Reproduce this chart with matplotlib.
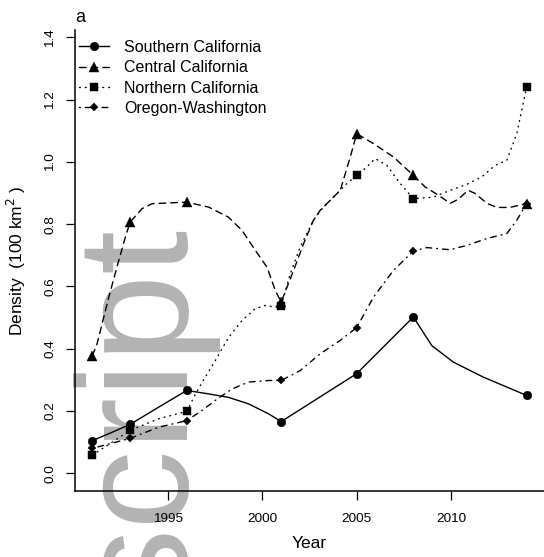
import matplotlib
matplotlib.use("Agg")
import matplotlib.pyplot as plt

plt.rcParams['font.family'] = ['Liberation Sans', 'DejaVu Sans']
plt.rcParams['lines.dash_capstyle'] = 'round'

# ---- data -------------------------------------------------------------
survey_years = [1991, 1993, 1996, 2001, 2005, 2008, 2014]

south_vals = [0.105, 0.157, 0.266, 0.166, 0.320, 0.502, 0.250]
central_vals = [0.378, 0.807, 0.871, 0.550, 1.091, 0.957, 0.866]
north_vals = [0.058, 0.138, 0.199, 0.537, 0.957, 0.882, 1.241]
oregon_vals = [0.080, 0.112, 0.169, 0.298, 0.468, 0.714, 0.866]

# smoothed trend paths
south_curve_x = [1991.0, 1991.87, 1993.0, 1994.5, 1996.0, 1997.16, 1998.2, 1999.27,
                 2000.33, 2001.0, 2005.0, 2008.0, 2008.98, 2010.12, 2011.7, 2014.0]
south_curve_y = [0.105, 0.127, 0.157, 0.212, 0.266, 0.255, 0.244, 0.223,
                 0.191, 0.166, 0.320, 0.502, 0.410, 0.357, 0.309, 0.250]

central_curve_x = [1991.0, 1991.25, 1991.87, 1992.4, 1992.75, 1993.0, 1993.63, 1994.16,
                   1996.0, 1997.16, 1998.2, 1998.93, 1999.63, 2000.25, 2000.69, 2001.0,
                   2001.66, 2002.19, 2002.71, 2003.07, 2003.6, 2004.13, 2004.66, 2005.0,
                   2005.89, 2006.95, 2008.0, 2008.62, 2009.33, 2009.95, 2010.37, 2010.9,
                   2011.27, 2011.9, 2012.43, 2013.1, 2014.0]
central_curve_y = [0.378, 0.416, 0.566, 0.684, 0.759, 0.807, 0.850, 0.866,
                   0.871, 0.855, 0.823, 0.780, 0.716, 0.662, 0.587, 0.550,
                   0.652, 0.738, 0.813, 0.845, 0.877, 0.909, 1.016, 1.091,
                   1.059, 1.016, 0.957, 0.920, 0.893, 0.867, 0.880, 0.909,
                   0.899, 0.867, 0.854, 0.854, 0.866]

north_curve_x = [1991.0, 1993.0, 1994.51, 1996.0, 1996.46, 1996.98, 1997.51, 1998.22,
                 1998.93, 1999.63, 2000.16, 2000.69, 2001.0, 2001.48, 2002.01, 2002.71,
                 2003.24, 2003.95, 2004.48, 2005.0, 2005.54, 2005.98, 2006.6, 2007.3,
                 2008.0, 2009.06, 2009.95, 2010.83, 2011.62, 2012.33, 2012.95, 2013.48,
                 2014.0]
north_curve_y = [0.058, 0.138, 0.175, 0.199, 0.255, 0.309, 0.362, 0.437,
                 0.491, 0.529, 0.539, 0.534, 0.537, 0.641, 0.727, 0.813,
                 0.855, 0.898, 0.931, 0.957, 0.984, 1.011, 0.989, 0.931,
                 0.882, 0.887, 0.909, 0.928, 0.952, 0.989, 1.005, 1.091,
                 1.241]

oregon_curve_x = [1991.0, 1993.0, 1994.51, 1996.0, 1996.81, 1997.51, 1998.4, 1999.27,
                  2000.33, 2001.0, 2002.01, 2003.07, 2004.13, 2005.0, 2005.89, 2006.95,
                  2008.0, 2008.71, 2009.95, 2010.83, 2011.89, 2012.95, 2013.48, 2014.0]
oregon_curve_y = [0.080, 0.112, 0.148, 0.169, 0.202, 0.234, 0.271, 0.293,
                  0.298, 0.298, 0.330, 0.384, 0.427, 0.468, 0.566, 0.652,
                  0.714, 0.725, 0.718, 0.732, 0.754, 0.770, 0.813, 0.866]

series_names = ["Southern California", "Central California",
                "Northern California", "Oregon-Washington"]
x_ticks = [1995, 2000, 2005, 2010]
y_ticks = [0.0, 0.2, 0.4, 0.6, 0.8, 1.0, 1.2, 1.4]
y_tick_labels = ["0.0", "0.2", "0.4", "0.6", "0.8", "1.0", "1.2", "1.4"]

# ---- figure ------------------------------------------------------------
W, H = 544, 557
fig = plt.figure(figsize=(W / 100, H / 100), dpi=100)

# faint watermark text behind the plot
fig.text(184 / W, 1 - 603 / H, "script", rotation=90, rotation_mode='anchor',
         ha='left', va='baseline', fontsize=114, color='#b3b3b3',
         family='Liberation Sans', zorder=-1)

ax = fig.add_axes([75 / W, 1 - 491 / H, 469 / W, 461 / H])
ax.set_facecolor('none')

lw = 1.0
styles = [
    dict(ls='-', marker='o', ms=6.2),
    dict(ls=(0, (4.8, 3.6)), marker='^', ms=7.0),
    dict(ls=(0, (0.6, 3.6)), marker='s', ms=5.4),
    dict(ls=(0, (0.6, 3.6, 4.2, 3.6)), marker='D', ms=4.0),
]
curves = [(south_curve_x, south_curve_y, south_vals),
          (central_curve_x, central_curve_y, central_vals),
          (north_curve_x, north_curve_y, north_vals),
          (oregon_curve_x, oregon_curve_y, oregon_vals)]

handles = []
for (cx, cy, vals), st, name in zip(curves, styles, series_names):
    ax.plot(cx, cy, color='black', lw=lw, ls=st['ls'], zorder=2)
    ax.plot(survey_years, vals, ls='none', marker=st['marker'], ms=st['ms'],
            color='black', mew=0.3, zorder=3)
    h, = ax.plot([], [], color='black', lw=lw, ls=st['ls'], marker=st['marker'],
                 ms=st['ms'], mew=0.3, label=name)
    handles.append(h)

ax.set_xlim(1990.08, 2014.92)
ax.set_ylim(-0.057, 1.424)
ax.set_xticks(x_ticks)
ax.set_xticklabels([str(t) for t in x_ticks])
ax.set_yticks(y_ticks)
ax.set_yticklabels(y_tick_labels)

for s in ['top', 'right']:
    ax.spines[s].set_visible(False)
for s in ['left', 'bottom']:
    ax.spines[s].set_linewidth(1.1)

ax.tick_params(axis='both', direction='out', length=6.5, width=0.9,
               labelsize=9.7, colors='black')
ax.tick_params(axis='x', pad=9.3)
ax.tick_params(axis='y', pad=7.0, labelrotation=90)
for lab in ax.get_yticklabels():
    lab.set_va('center')

ax.set_xlabel("Year", fontsize=12.5)
ax.xaxis.set_label_coords(0.5, -(536 - 491) / 461)
ax.set_ylabel("Density  (100 km$^2$ )", fontsize=12.5)
ax.yaxis.set_label_coords((28 - 75) / 469, 0.5)

ax.set_title("a", loc='left', fontsize=13, pad=5.8)

leg = ax.legend(handles=handles, loc='upper left',
                bbox_to_anchor=(79 / W, 1 - 40 / H), bbox_transform=fig.transFigure,
                frameon=False, fontsize=11.5, handlelength=1.88, handletextpad=0.94,
                labelspacing=0.33, borderpad=0, borderaxespad=0, numpoints=1)

fig.savefig("out.png", dpi=100)
